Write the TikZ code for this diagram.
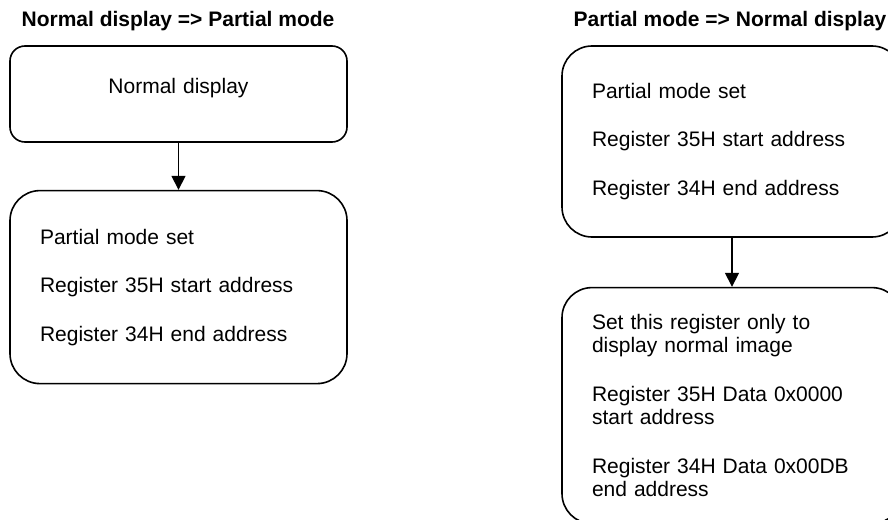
\documentclass[tikz,border=0pt]{standalone}
\usepackage{fontspec}
\setmainfont{Liberation Sans}
\usetikzlibrary{arrows.meta,positioning}

\begin{document}
\begin{tikzpicture}[
  x=1pt,y=-1pt,
  node distance=48pt,
  flowtitle/.style={font=\fontsize{21}{23}\selectfont\bfseries,inner sep=0pt,anchor=base},
  flowbox/.style={draw,line width=1.6pt,rounded corners=30pt,align=left,inner xsep=30pt,inner ysep=0pt,text width=277pt,minimum width=337pt,font=\fontsize{21}{23}\selectfont},
  arr/.style={-{Triangle[length=14pt,width=14pt]},line width=1.6pt}]
  \useasboundingbox (0,0) rectangle (888,519);
  \clip (0,0) rectangle (888,519);
  % left: normal display => partial mode
  \node[flowtitle] (lefttitle) at (178,27) {Normal display => Partial mode};
  \node[flowbox,rounded corners=15pt,align=center,minimum height=96pt,text height=15pt,text depth=17pt] (lnormal) at (178.5,94) {Normal display};
  \node[flowbox,minimum height=193pt,below=47pt of lnormal] (lpartial) {Partial mode set\\[25.5pt]Register 35H start address\\[25.5pt]Register 34H end address};
  \draw[arr] (lnormal) -- (lpartial);
  % right: partial mode => normal display
  \node[flowtitle] (righttitle) at (730,27) {Partial mode => Normal display};
  \node[flowbox,text width=280pt,minimum width=340pt,minimum height=191pt] (rpartial) at (732,141.5) {Partial mode set\\[25.5pt]Register 35H start address\\[25.5pt]Register 34H end address};
  \node[flowbox,text width=280pt,minimum width=340pt,minimum height=236pt,below=49pt of rpartial] (rnormal) {Set this register only to\\display normal image\\[26pt]Register 35H Data 0x0000\\start address\\[26pt]Register 34H Data 0x00DB\\end address};
  \draw[arr] (rpartial) -- (rnormal);
\end{tikzpicture}
\end{document}
